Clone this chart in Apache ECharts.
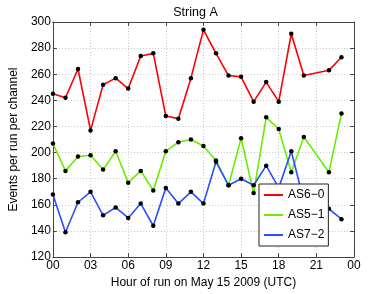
<!DOCTYPE html>
<html>
<head>
<meta charset="utf-8">
<script src="https://cdn.jsdelivr.net/npm/echarts@6/dist/echarts.min.js"></script>
<style>html,body{margin:0;padding:0;background:#fff;}#c{width:391px;height:294px;}</style>
</head>
<body>
<div id="c"></div>
<script>
const titleText = 'String A';
const xName = 'Hour of run on May 15 2009 (UTC)';
const yName = 'Events per run per channel';
const seriesNames = ['AS6\u22120', 'AS5\u22121', 'AS7\u22122'];
const hours = [0,1,2,3,4,5,6,7,8,9,10,11,12,13,14,15,16,17,18,19,20,22,23];
const as60 = [245,242,264,217,252,257,249,274,276,228,226,257,294,276,259,258,239,254,239,291,259,263,273];
const as51 = [207,186,197,198,187,201,177,186,171,201,208,210,205,194,175,211,169,227,218,185,212,185,230];
const as72 = [168,139,162,170,152,158,150,161,144,173,161,170,161,193,175,180,175,190,173,201,163,157,149];
const colors = ['#ff0000', '#66ee00', '#2a4dff'];

const FONT = '"Liberation Sans", Arial, sans-serif';
const frame = '#444';
const pair = (vals) => vals.map((v, i) => [hours[i], v]);
const allVals = [as60, as51, as72];

const chart = echarts.init(document.getElementById('c'), null, {renderer: 'canvas'});
const baseX = {type: 'value', min: 0, max: 24, interval: 3};
const baseY = {type: 'value', min: 120, max: 300, interval: 20};
chart.setOption({
  animation: false,
  backgroundColor: '#fff',
  textStyle: {fontFamily: FONT},
  title: {text: titleText, left: 'center', top: 1,
    textStyle: {fontFamily: FONT, fontSize: 12.5, fontWeight: 'normal', color: '#000'}},
  grid: {left: 50, right: 37, top: 22, bottom: 35},
  legend: {
    orient: 'vertical', left: 259, top: 184,
    data: seriesNames.map((n, i) => ({name: n, itemStyle: {color: colors[i]}})),
    icon: 'rect', itemWidth: 19, itemHeight: 2, itemGap: 6,
    padding: [4, 4, 4, 5],
    backgroundColor: '#fff', borderColor: '#222', borderWidth: 1,
    textStyle: {fontFamily: FONT, fontSize: 12, color: '#000', lineHeight: 14}
  },
  xAxis: [
    Object.assign({}, baseX, {
      position: 'bottom', name: xName, nameLocation: 'middle', nameGap: 15,
      nameTextStyle: {fontFamily: FONT, fontSize: 12, color: '#000'},
      axisLine: {onZero: false, lineStyle: {color: frame, width: 1}},
      axisTick: {inside: true, length: 4, lineStyle: {color: frame}},
      axisLabel: {margin: 3, fontFamily: FONT, fontSize: 12, color: '#000',
        formatter: v => String(v % 24).padStart(2, '0')},
      splitLine: {show: true, lineStyle: {color: '#c8c8c8', type: [1, 2], width: 1}}
    }),
    Object.assign({}, baseX, {
      position: 'top',
      axisLine: {onZero: false, lineStyle: {color: frame, width: 1}},
      axisTick: {inside: true, length: 4, lineStyle: {color: frame}},
      axisLabel: {show: false}, splitLine: {show: false}
    })
  ],
  yAxis: [
    Object.assign({}, baseY, {
      position: 'left', name: yName, nameLocation: 'middle', nameGap: 22, nameRotate: 90,
      nameTextStyle: {fontFamily: FONT, fontSize: 12, color: '#000'},
      axisLine: {show: true, onZero: false, lineStyle: {color: frame, width: 1}},
      axisTick: {show: true, inside: true, length: 4, lineStyle: {color: frame}},
      axisLabel: {margin: 2, fontFamily: FONT, fontSize: 12, color: '#000'},
      splitLine: {show: true, lineStyle: {color: '#c8c8c8', type: [1, 2], width: 1}}
    }),
    Object.assign({}, baseY, {
      position: 'right',
      axisLine: {show: true, onZero: false, lineStyle: {color: frame, width: 1}},
      axisTick: {show: true, inside: true, length: 4, lineStyle: {color: frame}},
      axisLabel: {show: false}, splitLine: {show: false}
    })
  ],
  series: seriesNames.map((n, i) => ({
    name: n, type: 'line', xAxisIndex: 0, yAxisIndex: 0,
    data: pair(allVals[i]),
    symbol: 'circle', symbolSize: 4.5, showSymbol: true,
    lineStyle: {color: colors[i], width: 1.6},
    itemStyle: {color: '#000', borderWidth: 0},
    emphasis: {disabled: true}
  }))
});
</script>
</body>
</html>
